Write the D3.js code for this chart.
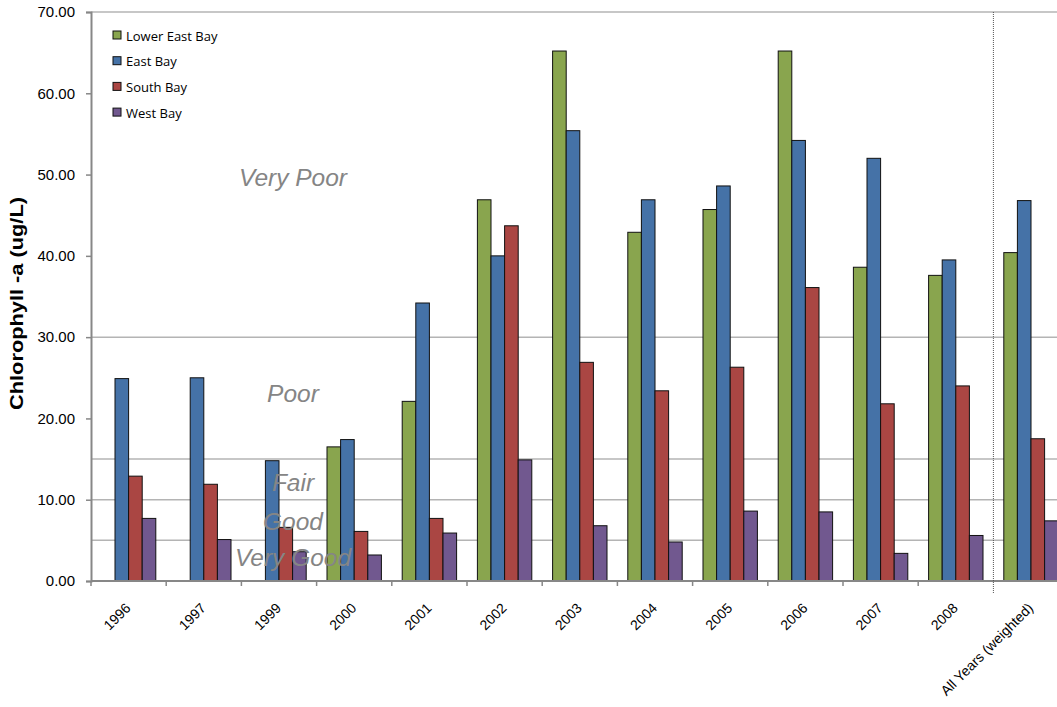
<!DOCTYPE html>
<html>
<head>
<meta charset="utf-8">
<script src="https://cdn.jsdelivr.net/npm/d3@7"></script>
<style>
  html, body { margin: 0; padding: 0; background: #fff; }
  svg { display: block; }
</style>
</head>
<body>
<svg id="chart" width="1057" height="707"></svg>
<script>
// Mean chlorophyll-a by bay segment and year
const categories = ["1996", "1997", "1999", "2000", "2001", "2002", "2003", "2004", "2005", "2006", "2007", "2008", "All Years (weighted)"];
const seriesNames = ["Lower East Bay", "East Bay", "South Bay", "West Bay"];
const lowerEastBay = [null, null, null, 16.5, 22.1, 46.9, 65.2, 42.9, 45.7, 65.2, 38.6, 37.6, 40.4];
const eastBay      = [24.9, 25.0, 14.8, 17.4, 34.2, 40.0, 55.4, 46.9, 48.6, 54.2, 52.0, 39.5, 46.8];
const southBay     = [12.9, 11.9, 6.6, 6.1, 7.7, 43.7, 26.9, 23.4, 26.3, 36.1, 21.8, 24.0, 17.5];
const westBay      = [7.7, 5.1, 3.6, 3.2, 5.9, 14.9, 6.8, 4.8, 8.6, 8.5, 3.4, 5.6, 7.4];
const seriesColors = ["#89A54E", "#4572A7", "#AA4643", "#71588F"];

// Axis ticks and water-quality class boundaries
const yTicks = [0, 10, 20, 30, 40, 50, 60, 70];
const classBreaks = [5, 10, 15, 30, 70];
const classLabels = ["Very Poor", "Poor", "Fair", "Good", "Very Good"];
const classLabelLevels = [48.6, 22.0, 11.1, 6.3, 1.8];

const svg = d3.select("#chart");
const plotLeft = 91, plotTop = 12, plotBottom = 581;
const step = 75.2;

const x = d3.scaleBand().domain(categories).range([plotLeft, plotLeft + step * categories.length]).paddingInner(0).paddingOuter(0);
const xs = d3.scaleBand().domain(seriesNames).range([10.4, 64.8]).padding(0);
const y = d3.scaleLinear().domain([0, 70]).range([plotBottom, plotTop]);

const rows = categories.map((c, i) => ({
  cat: c,
  vals: [lowerEastBay[i], eastBay[i], southBay[i], westBay[i]]
}));

// Class boundary lines
svg.append("g").selectAll("line").data(classBreaks).join("line")
  .attr("x1", plotLeft).attr("x2", x.range()[1])
  .attr("y1", d => y(d)).attr("y2", d => y(d))
  .attr("stroke", "#b4b4b4").attr("stroke-width", 1.5);

// Bars
const groups = svg.append("g").selectAll("g").data(rows).join("g")
  .attr("transform", d => `translate(${x(d.cat)},0)`);
groups.selectAll("rect")
  .data(d => d.vals.map((v, k) => ({ v, k })).filter(e => e.v != null))
  .join("rect")
  .attr("x", e => xs(seriesNames[e.k]))
  .attr("width", xs.bandwidth())
  .attr("y", e => y(e.v))
  .attr("height", e => y(0) - y(e.v))
  .attr("fill", e => seriesColors[e.k])
  .attr("stroke", "#111").attr("stroke-width", 1);

// Class labels, drawn over the bars
svg.append("g").selectAll("text").data(classLabels).join("text")
  .attr("x", 293).attr("y", (d, i) => y(classLabelLevels[i]))
  .attr("text-anchor", "middle")
  .attr("font-family", "Liberation Sans, Arial, sans-serif")
  .attr("font-style", "italic").attr("font-size", 24.5)
  .attr("fill", "#858585")
  .text(d => d);

// Y axis
const yAxis = svg.append("g").attr("transform", `translate(${plotLeft},0)`)
  .call(d3.axisLeft(y).tickValues(yTicks).tickSize(5).tickPadding(11).tickFormat(d3.format(".2f")));
yAxis.select(".domain").attr("stroke", "#878787").attr("stroke-width", 2);
yAxis.selectAll(".tick line").attr("stroke", "#878787").attr("stroke-width", 1.5);
yAxis.selectAll(".tick text").attr("font-family", "Liberation Sans, Arial, sans-serif")
  .attr("font-size", 15).attr("fill", "#000");

// X axis with ticks at category boundaries
const xAxis = svg.append("g").attr("transform", `translate(0,${plotBottom})`);
xAxis.append("line").attr("x1", plotLeft).attr("x2", x.range()[1]).attr("y1", 0).attr("y2", 0)
  .attr("stroke", "#878787").attr("stroke-width", 2);
xAxis.selectAll("line.tk").data(categories.slice(0, categories.length - 1)).join("line")
  .attr("class", "tk")
  .attr("x1", d => x(d)).attr("x2", d => x(d)).attr("y1", 0).attr("y2", 5)
  .attr("stroke", "#878787").attr("stroke-width", 1.5);
xAxis.selectAll("text").data(categories).join("text")
  .attr("transform", d => `translate(${x(d) + x.bandwidth() / 2 + 3},28) rotate(-45)`)
  .attr("text-anchor", "end")
  .attr("font-family", "Liberation Sans, Arial, sans-serif")
  .attr("font-size", 14).attr("fill", "#000")
  .text(d => d);

// Dotted separator before the all-years summary
const sep = x(categories[categories.length - 1]);
svg.append("line").attr("x1", sep).attr("x2", sep).attr("y1", plotTop).attr("y2", plotBottom + 12)
  .attr("stroke", "#555").attr("stroke-width", 1).attr("stroke-dasharray", "1,1");

// Y axis title
svg.append("text")
  .attr("transform", `translate(23,303.5) rotate(-90)`)
  .attr("text-anchor", "middle")
  .attr("font-family", "Liberation Sans, Arial, sans-serif")
  .attr("font-weight", "bold").attr("font-size", 18).attr("fill", "#000")
  .attr("textLength", 213).attr("lengthAdjust", "spacingAndGlyphs")
  .text("Chlorophyll -a (ug/L)");

// Legend
const legend = svg.append("g").selectAll("g").data(seriesNames).join("g")
  .attr("transform", (d, i) => `translate(113,${35 + i * 25.7})`);
legend.append("rect").attr("x", 0).attr("y", -4).attr("width", 8).attr("height", 8)
  .attr("fill", (d, i) => seriesColors[i]).attr("stroke", "#111").attr("stroke-width", 1);
legend.append("text").attr("x", 13).attr("y", 5.5)
  .attr("font-family", "Open Sans, sans-serif").attr("font-size", 13).attr("fill", "#000")
  .text(d => d);
</script>
</body>
</html>
